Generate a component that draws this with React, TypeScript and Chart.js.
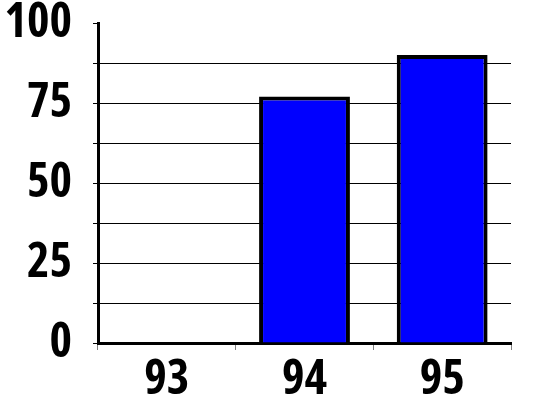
import { useEffect, useRef } from 'react';
import { Chart, registerables } from 'chart.js';

Chart.register(...registerables);

const years = ['93', '94', '95'];
const values = [0, 77, 90];
const yTickLabels = [0, 25, 50, 75, 100];

const labelFont = { family: "'Open Sans', sans-serif", size: 48, weight: 'bold condensed' as any, lineHeight: 0.6 };

const clearPadding = (scale: any) => {
  scale.paddingTop = 0;
  scale.paddingBottom = 0;
  scale.paddingLeft = 0;
  scale.paddingRight = 0;
};

export default function App() {
  const canvasRef = useRef<HTMLCanvasElement>(null);
  const chartRef = useRef<Chart | null>(null);

  useEffect(() => {
    if (!canvasRef.current) return;
    if (chartRef.current) chartRef.current.destroy();

    chartRef.current = new Chart(canvasRef.current, {
      type: 'bar',
      data: {
        labels: years,
        datasets: [{
          data: values,
          backgroundColor: '#0000ff',
          borderColor: '#000000',
          borderWidth: 4,
          borderSkipped: 'start',
          barPercentage: 0.66,
          categoryPercentage: 1,
        }]
      },
      options: {
        animation: false,
        responsive: false,
        maintainAspectRatio: false,
        devicePixelRatio: 1,
        layout: {
          padding: { top: 23, right: 38, bottom: 0, left: 0 }
        },
        plugins: {
          legend: { display: false },
          tooltip: { enabled: false }
        },
        scales: {
          x: {
            offset: true,
            border: { display: true, color: '#000000', width: 3 },
            grid: {
              display: true,
              offset: true,
              drawOnChartArea: false,
              drawTicks: true,
              tickLength: 7,
              tickColor: '#808080',
              tickWidth: 1,
            },
            ticks: {
              color: '#000000',
              padding: 2,
              font: { ...labelFont, lineHeight: 1.2 }
            },
            afterFit: (scale: any) => { scale.height = 59; clearPadding(scale); }
          },
          y: {
            min: 0,
            max: 100,
            border: { display: true, color: '#000000', width: 3 },
            grid: {
              color: (ctx: any) => (ctx.tick && ctx.tick.value === 100 ? 'rgba(0,0,0,0)' : '#000000'),
              tickColor: '#000000',
              lineWidth: 1,
              tickLength: 5,
            },
            ticks: {
              stepSize: 12.5,
              autoSkip: false,
              color: '#000000',
              padding: 21,
              font: labelFont,
              callback: (v: any) => (yTickLabels.includes(Number(v)) ? String(v) : '')
            },
            afterFit: (scale: any) => { scale.width = 98; clearPadding(scale); }
          }
        }
      }
    });

    return () => {
      if (chartRef.current) {
        chartRef.current.destroy();
        chartRef.current = null;
      }
    };
  }, []);

  return (
    <div style={{ position: 'fixed', left: 0, top: 0, width: 549, height: 402, background: '#ffffff' }}>
      <canvas ref={canvasRef} width={549} height={402} />
    </div>
  );
}
